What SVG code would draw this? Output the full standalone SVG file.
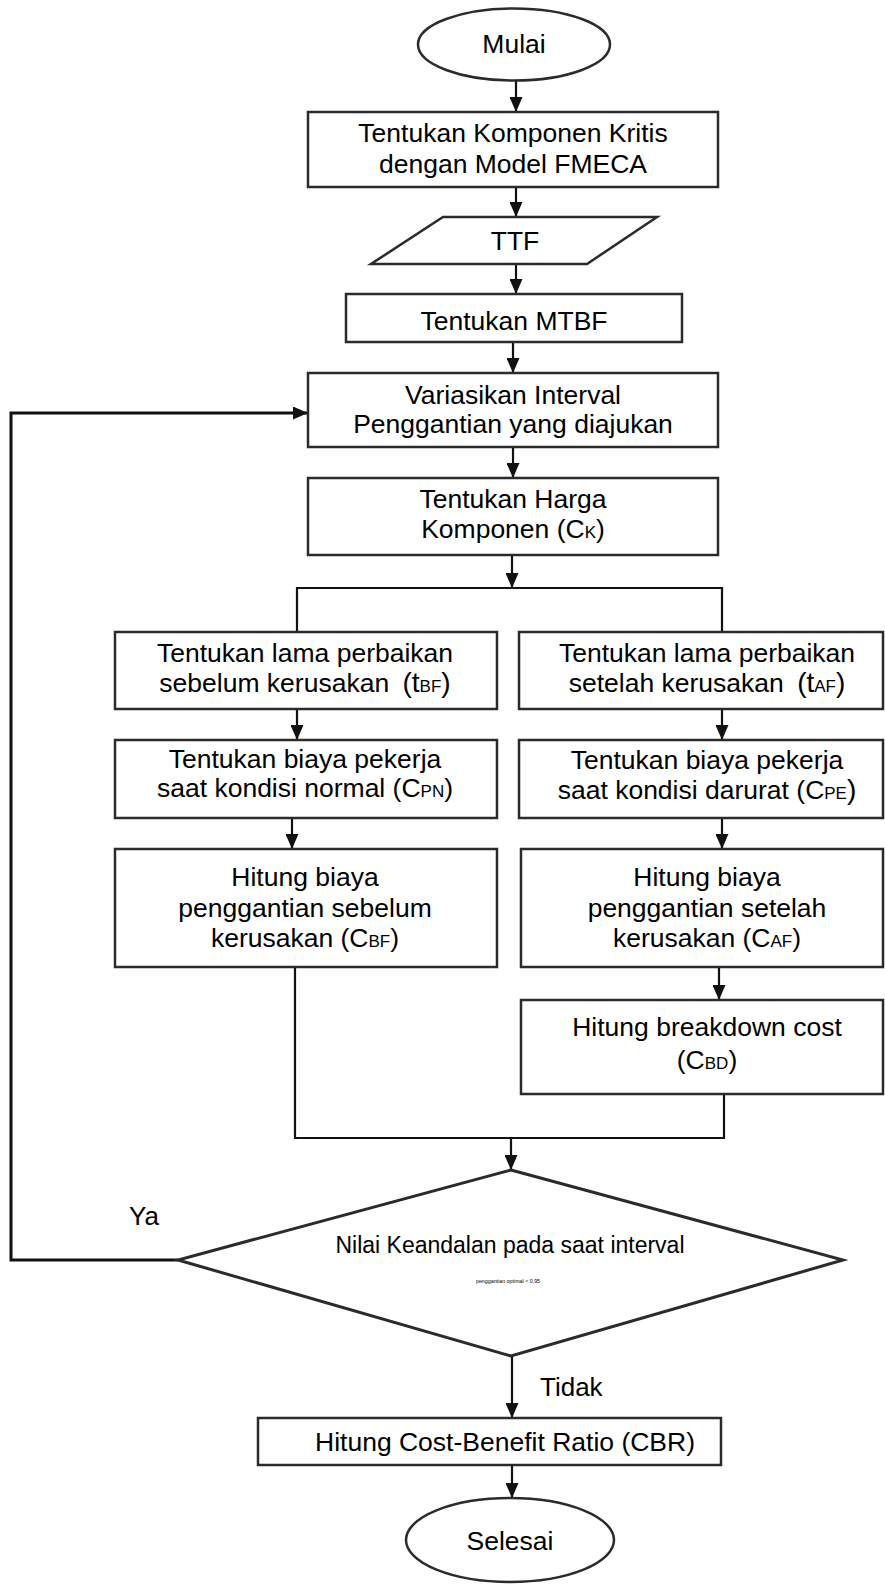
<svg xmlns="http://www.w3.org/2000/svg" width="885" height="1593" viewBox="0 0 885 1593">
<defs>
<marker id="ah" markerUnits="userSpaceOnUse" markerWidth="15" markerHeight="13" viewBox="0 0 15 13" refX="15" refY="6.5" orient="auto">
<path d="M0,0 L15,6.5 L0,13 z" fill="#111"/>
</marker>
</defs>
<style>
.box{fill:#fff;stroke:#2b2b2b;stroke-width:2.5}
.t{font-family:"Liberation Sans",Arial,sans-serif;font-size:26.5px;fill:#000;text-anchor:middle}
.s{font-size:17px}
.b{font-size:28px}
.c{fill:none;stroke:#111;stroke-width:2.2}
.ca{fill:none;stroke:#111;stroke-width:2.2;marker-end:url(#ah)}
.lbl{font-family:"Liberation Sans",Arial,sans-serif;font-size:26px;fill:#000}
</style>
<rect width="885" height="1593" fill="#fff"/>
<g id="connectors">
<line class="ca" x1="516" y1="80" x2="516" y2="112"/>
<line class="ca" x1="516" y1="187" x2="516" y2="217"/>
<line class="ca" x1="516" y1="264" x2="516" y2="294"/>
<line class="ca" x1="513" y1="342" x2="513" y2="373"/>
<line class="ca" x1="513" y1="447" x2="513" y2="478"/>
<line class="ca" x1="512" y1="555" x2="512" y2="588"/>
<polyline class="c" points="297,632 297,588 722,588 722,632"/>
<line class="ca" x1="297" y1="709" x2="297" y2="740"/>
<line class="ca" x1="292" y1="818" x2="292" y2="849"/>
<line class="ca" x1="722" y1="709" x2="722" y2="740"/>
<line class="ca" x1="722" y1="818" x2="722" y2="849"/>
<line class="ca" x1="719" y1="967" x2="719" y2="1000"/>
<polyline class="c" points="295,967 295,1138 724,1138 724,1094"/>
<line class="ca" x1="511" y1="1138" x2="511" y2="1170"/>
<polyline class="ca" style="stroke-width:3" points="178,1260 11,1260 11,413 308,413"/>
<line class="ca" x1="512" y1="1356" x2="512" y2="1418"/>
<line class="ca" x1="512" y1="1465" x2="512" y2="1498"/>
<text class="lbl" x="129" y="1225">Ya</text>
<text class="lbl" x="540" y="1396">Tidak</text>
</g>
<g id="mulai">
<ellipse class="box" cx="514" cy="44.5" rx="96" ry="36"/>
<text class="t" x="514" y="53">Mulai</text>
</g>
<g id="fmeca">
<rect class="box" x="308" y="112" width="410" height="75"/>
<text class="t" x="513" y="142">Tentukan Komponen Kritis</text>
<text class="t" x="513" y="173">dengan Model FMECA</text>
</g>
<g id="ttf">
<polygon class="box" points="443,217 657,217 587,264 371,264"/>
<text class="t" x="515" y="250">TTF</text>
</g>
<g id="mtbf">
<rect class="box" x="346" y="294" width="336" height="48"/>
<text class="t" x="514" y="330">Tentukan MTBF</text>
</g>
<g id="variasi">
<rect class="box" x="308" y="373" width="410" height="74"/>
<text class="t" x="513" y="404">Variasikan Interval</text>
<text class="t" x="513" y="433">Penggantian yang diajukan</text>
</g>
<g id="harga">
<rect class="box" x="308" y="478" width="410" height="77"/>
<text class="t" x="513" y="508">Tentukan Harga</text>
<text class="t" x="513" y="538">Komponen (C<tspan class="s">K</tspan>)</text>
</g>
<g id="tbf">
<rect class="box" x="115" y="632" width="382" height="77"/>
<text class="t" x="305" y="662">Tentukan lama perbaikan</text>
<text class="t" x="305" y="692">sebelum kerusakan <tspan class="b" dx="6">(t</tspan><tspan class="s">BF</tspan><tspan class="b">)</tspan></text>
</g>
<g id="taf">
<rect class="box" x="519" y="632" width="364" height="77"/>
<text class="t" x="707" y="662">Tentukan lama perbaikan</text>
<text class="t" x="707" y="692">setelah kerusakan <tspan class="b" dx="6">(t</tspan><tspan class="s">AF</tspan><tspan class="b">)</tspan></text>
</g>
<g id="cpn">
<rect class="box" x="115" y="740" width="382" height="78"/>
<text class="t" x="305" y="768">Tentukan biaya pekerja</text>
<text class="t" x="305" y="797">saat kondisi normal (C<tspan class="s">PN</tspan>)</text>
</g>
<g id="cpe">
<rect class="box" x="519" y="740" width="364" height="78"/>
<text class="t" x="707" y="769">Tentukan biaya pekerja</text>
<text class="t" x="707" y="799">saat kondisi darurat (C<tspan class="s">PE</tspan><tspan class="b">)</tspan></text>
</g>
<g id="cbf">
<rect class="box" x="115" y="849" width="382" height="118"/>
<text class="t" x="305" y="886">Hitung biaya</text>
<text class="t" x="305" y="917">penggantian sebelum</text>
<text class="t" x="305" y="947">kerusakan (C<tspan class="s">BF</tspan>)</text>
</g>
<g id="caf">
<rect class="box" x="521" y="849" width="362" height="118"/>
<text class="t" x="707" y="886">Hitung biaya</text>
<text class="t" x="707" y="917">penggantian setelah</text>
<text class="t" x="707" y="947">kerusakan (C<tspan class="s">AF</tspan>)</text>
</g>
<g id="cbd">
<rect class="box" x="521" y="1000" width="362" height="94"/>
<text class="t" x="707" y="1036">Hitung breakdown cost</text>
<text class="t" x="707" y="1069">(C<tspan class="s">BD</tspan>)</text>
</g>
<g id="keputusan">
<polygon class="box" style="stroke-width:3" points="511,1170 843,1260 511,1356 178,1260"/>
<text class="t" style="font-size:23px" x="510" y="1253">Nilai Keandalan pada saat interval</text>
<text class="t" style="font-size:5.3px" x="508" y="1283">penggantian optimal &lt; 0,95</text>
</g>
<g id="cbr">
<rect class="box" x="258" y="1418" width="463" height="47"/>
<text class="t" x="505" y="1451">Hitung Cost-Benefit Ratio (CBR)</text>
</g>
<g id="selesai">
<ellipse class="box" cx="510" cy="1540" rx="104" ry="42"/>
<text class="t" x="510" y="1550">Selesai</text>
</g>
</svg>
